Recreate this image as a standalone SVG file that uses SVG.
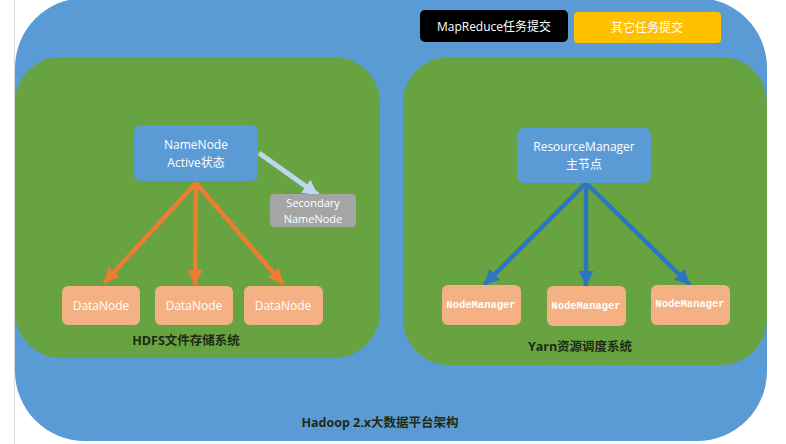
<svg xmlns="http://www.w3.org/2000/svg" width="786" height="444" viewBox="0 0 786 444">
<defs>
<style>
.t{font-family:"Open Sans","Noto Sans CJK SC",sans-serif;font-size:12px;fill:#fff;text-anchor:middle}
.s{font-family:"Open Sans","Noto Sans CJK SC",sans-serif;font-size:11px;fill:#fff;text-anchor:middle}
.lbl{font-family:"Open Sans","Noto Sans CJK SC",sans-serif;font-size:12.5px;font-weight:bold;fill:#1e2a14;text-anchor:middle}
.nm{font-family:"Liberation Mono",monospace;font-size:10.5px;font-weight:bold;fill:#fff;text-anchor:middle}
.peach{fill:#F4B183}
.conn{fill:none}
</style>
<marker id="aO" markerUnits="userSpaceOnUse" markerWidth="17" markerHeight="17" refX="15" refY="8.5" orient="auto"><path d="M0,1 L15,8.5 L0,16 Z" fill="#ED7D31"/></marker>
<marker id="aB" markerUnits="userSpaceOnUse" markerWidth="17" markerHeight="17" refX="15" refY="8.5" orient="auto"><path d="M0,1 L15,8.5 L0,16 Z" fill="#2E75C0"/></marker>
<marker id="aL" markerUnits="userSpaceOnUse" markerWidth="18" markerHeight="18" refX="15" refY="9" orient="auto"><path d="M0,1 L15,9 L0,17 Z" fill="#BDD7EE"/></marker>
</defs>
<rect x="0" y="0" width="786" height="444" fill="#ffffff"/>
<line x1="14.5" y1="0" x2="14.5" y2="444" stroke="#d8d8d8" stroke-width="1"/>
<g id="platform">
<rect x="15" y="-2" width="752" height="443" rx="70" ry="70" fill="#5B9BD5"/>
<text class="lbl" x="380" y="427">Hadoop 2.x大数据平台架构</text>
</g>
<g id="hdfs">
<rect x="15" y="57" width="365" height="301" rx="46" ry="46" fill="#68A342"/>
<text class="lbl" x="186" y="345">HDFS文件存储系统</text>
</g>
<g id="yarn">
<rect x="403" y="57" width="364" height="308" rx="46" ry="46" fill="#68A342"/>
<text class="lbl" x="580" y="351">Yarn资源调度系统</text>
</g>
<g id="mapreduce">
<rect x="420" y="10" width="148" height="32" rx="5" fill="#000"/>
<text class="t" x="494" y="31">MapReduce任务提交</text>
</g>
<g id="other">
<rect x="574" y="12" width="147" height="31" rx="4" fill="#FFC000"/>
<text class="t" x="647" y="32" fill="#fff6d8">其它任务提交</text>
</g>
<g id="connectors">
<line class="conn" x1="196" y1="183" x2="104" y2="283" stroke="#ED7D31" stroke-width="4.5" marker-end="url(#aO)"/>
<line class="conn" x1="196" y1="183" x2="195" y2="285" stroke="#ED7D31" stroke-width="4.5" marker-end="url(#aO)"/>
<line class="conn" x1="196" y1="183" x2="283" y2="284" stroke="#ED7D31" stroke-width="4.5" marker-end="url(#aO)"/>
<line class="conn" x1="259" y1="153" x2="318" y2="195" stroke="#BDD7EE" stroke-width="5" marker-end="url(#aL)"/>
<line class="conn" x1="586" y1="183" x2="484" y2="285" stroke="#2E75C0" stroke-width="4.5" marker-end="url(#aB)"/>
<line class="conn" x1="586" y1="183" x2="586" y2="286" stroke="#2E75C0" stroke-width="4.5" marker-end="url(#aB)"/>
<line class="conn" x1="586" y1="183" x2="690" y2="285" stroke="#2E75C0" stroke-width="4.5" marker-end="url(#aB)"/>
</g>
<g id="namenode">
<rect x="134" y="125" width="124" height="56" rx="7" fill="#5B9BD5"/>
<text class="t" x="196" y="149">NameNode</text>
<text class="t" x="196" y="167">Active状态</text>
</g>
<g id="secondary">
<rect x="270" y="194" width="86" height="33" rx="4" fill="#A5A5A5"/>
<text class="s" x="313" y="207">Secondary</text>
<text class="s" x="313" y="223">NameNode</text>
</g>
<g id="datanode1">
<rect class="peach" x="62" y="286" width="78" height="39" rx="6"/>
<text class="t" x="101" y="310">DataNode</text>
</g>
<g id="datanode2">
<rect class="peach" x="155" y="286" width="78" height="39" rx="6"/>
<text class="t" x="194" y="310">DataNode</text>
</g>
<g id="datanode3">
<rect class="peach" x="244" y="286" width="79" height="39" rx="6"/>
<text class="t" x="283" y="310">DataNode</text>
</g>
<g id="resourcemanager">
<rect x="517" y="128" width="134" height="55" rx="7" fill="#5B9BD5"/>
<text class="t" x="584" y="151">ResourceManager</text>
<text class="t" x="584" y="169">主节点</text>
</g>
<g id="nodemanager1">
<rect class="peach" x="442" y="285" width="79" height="40" rx="6"/>
<text class="nm" x="481" y="308">NodeManager</text>
</g>
<g id="nodemanager2">
<rect class="peach" x="547" y="286" width="79" height="40" rx="6"/>
<text class="nm" x="586" y="309">NodeManager</text>
</g>
<g id="nodemanager3">
<rect class="peach" x="651" y="285" width="79" height="40" rx="6"/>
<text class="nm" x="690" y="307">NodeManager</text>
</g>
</svg>
